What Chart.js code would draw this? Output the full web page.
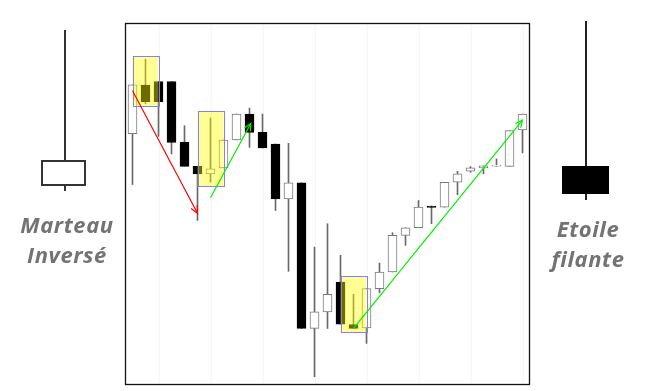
<!DOCTYPE html>
<html><head><meta charset="utf-8">
<script src="https://cdn.jsdelivr.net/npm/chart.js@4/dist/chart.umd.min.js"></script>
<style>
body{margin:0;background:#fff;}
#wrap{position:relative;width:655px;height:391px;overflow:hidden;}
.lbl{position:absolute;font-family:"Open Sans",sans-serif;font-weight:700;font-style:italic;color:#737373;font-size:22px;letter-spacing:0.6px;text-align:center;}
.ic{position:absolute;box-sizing:border-box;}
</style></head>
<body>
<div id="wrap">
<canvas id="c" width="655" height="391"></canvas>
<div class="ic" style="left:64px;top:30px;width:2px;height:161px;background:#333"></div>
<div class="ic" style="left:41px;top:160px;width:45px;height:26px;border:2px solid #333;background:#fff"></div>
<div class="lbl" style="left:0;top:209px;width:134px;line-height:30px">Marteau<br>Inversé</div>
<div class="ic" style="left:585px;top:21px;width:2px;height:179px;background:#222"></div>
<div class="ic" style="left:562px;top:166px;width:47px;height:28px;background:#000"></div>
<div class="lbl" style="left:521px;top:213px;width:134px;line-height:30px">Etoile<br>filante</div>
</div>
<script>
// Candles (price units)
const labels = Array.from({length:31},(_,i)=>String(i+1));
const opens  = [251,299.7,303.3,303.3,242.3,218.3,210.7,216.7,244.7,270.7,252.3,240.7,185.7,201.7,55.7,72.3,102.3,59.7,56.3,95.7,112.3,149,156.7,178.5,177.3,202.3,213.3,216.7,218.5,218.3,254.7];
const closes = [300,283,283,242.3,218.3,210.7,215.7,244.7,270.7,252.3,236.7,185.7,201.7,55.7,72.3,90,60,55.7,95.7,112.3,149,156.7,177.3,177,202.3,210.7,216.7,218.7,219.5,254,270.7];
const highs  = [300,325.7,303.3,303.3,259,218.3,266.7,244.7,270.7,276.7,270.7,240.7,241.3,201.7,137.3,160.7,129,90,95.7,121.3,151.7,156.7,184,178.5,202.3,213.3,218,218.7,225.7,254,270.7];
const lows   = [200,281,248.3,230.7,218.3,164,202.3,216.7,244.7,237.3,236.7,174,113,55.7,7.3,55.7,60,55.7,40.7,91.3,112.3,139,156.7,160.7,177.3,189.7,212.3,210.7,218.3,218.3,231.7];
// Highlight boxes: [fromIndex, toIndex, low, high]
const boxes = [[0,2,279,329],[5,7,198,273.3],[16,18,52.3,108]];
// Arrows: [x0, y0, x1, y1, colour]
const arrows = [[0,294,5,171.3,'#ff0000'],[6,186.7,9.1,261.3,'#00f000'],[17,55.7,30,264.7,'#00f000']];
const gridEvery = 4, gridStart = 2;

const overlay = {
  id:'overlay',
  beforeDatasetsDraw(chart){
    const {ctx,chartArea:a,scales:{x}} = chart;
    ctx.save();
    ctx.strokeStyle='#f6f6f6'; ctx.lineWidth=1;
    for(let i=gridStart;i<labels.length;i+=gridEvery){
      const px=Math.round(x.getPixelForValue(i))+0.5;
      ctx.beginPath();ctx.moveTo(px,a.top);ctx.lineTo(px,a.bottom);ctx.stroke();
    }
    ctx.restore();
  },
  afterDatasetsDraw(chart){
    const {ctx,chartArea:a,scales:{x,y}} = chart;
    ctx.save();
    boxes.forEach(b=>{
      const x0=x.getPixelForValue(b[0]),x1=x.getPixelForValue(b[1]);
      const y0=y.getPixelForValue(b[3]),y1=y.getPixelForValue(b[2]);
      ctx.fillStyle='rgba(255,255,0,0.42)';
      ctx.fillRect(x0,y0,x1-x0,y1-y0);
      ctx.strokeStyle='#8080ff';ctx.lineWidth=1;
      ctx.strokeRect(Math.round(x0)+0.5,Math.round(y0)+0.5,Math.round(x1-x0),Math.round(y1-y0));
    });
    arrows.forEach(r=>{
      const x0=x.getPixelForValue(r[0]),y0=y.getPixelForValue(r[1]);
      const x1=x.getPixelForValue(r[2]),y1=y.getPixelForValue(r[3]);
      ctx.strokeStyle=r[4];ctx.lineWidth=1.2;
      ctx.beginPath();ctx.moveTo(x0,y0);ctx.lineTo(x1,y1);ctx.stroke();
      const ang=Math.atan2(y1-y0,x1-x0),L=8,s=0.45;
      ctx.beginPath();
      ctx.moveTo(x1-L*Math.cos(ang-s),y1-L*Math.sin(ang-s));
      ctx.lineTo(x1,y1);
      ctx.lineTo(x1-L*Math.cos(ang+s),y1-L*Math.sin(ang+s));
      ctx.stroke();
    });
    ctx.restore();
  },
  afterDraw(chart){
    const {ctx,chartArea:a} = chart;
    ctx.save();ctx.strokeStyle='#111';ctx.lineWidth=1.3;
    ctx.strokeRect(a.left-0.5,a.top-0.5,a.right-a.left+1,a.bottom-a.top+1);
    ctx.restore();
  }
};

new Chart(document.getElementById('c'),{
  type:'bar',
  data:{labels,datasets:[
    {label:'wick',data:lows.map((l,i)=>[l,highs[i]]),backgroundColor:'#6a6a6a',barThickness:1,grouped:false,order:2},
    {label:'body',data:opens.map((o,i)=>[o,closes[i]]),
     backgroundColor:opens.map((o,i)=>closes[i]>=o?'#ffffff':'#000000'),
     borderColor:opens.map((o,i)=>closes[i]>=o?'#7a7a7a':'#000000'),
     borderWidth:1,borderSkipped:false,barThickness:9,grouped:false,order:1}
  ]},
  options:{
    responsive:false,animation:false,
    layout:{padding:{left:126,right:126,top:24,bottom:7}},
    plugins:{legend:{display:false},tooltip:{enabled:false}},
    scales:{
      x:{display:false,offset:true},
      y:{display:false,min:0,max:361}
    }
  },
  plugins:[overlay]
});
</script>
</body></html>
